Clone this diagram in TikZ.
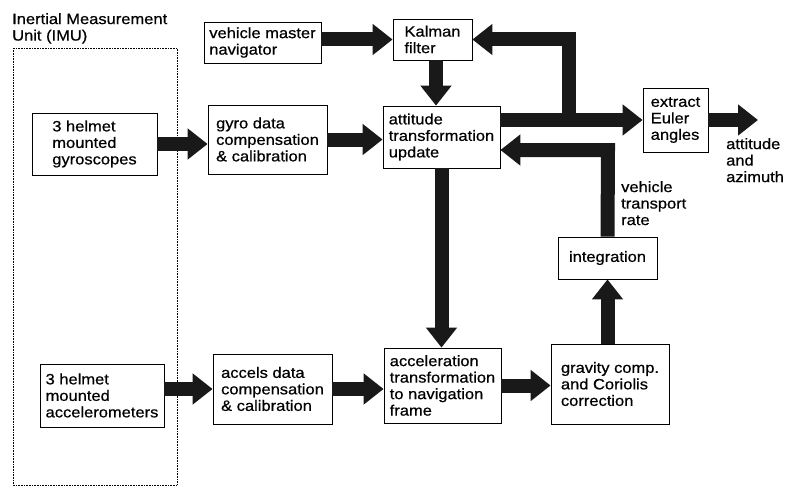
\documentclass[tikz,border=0pt]{standalone}
\usepackage{fontspec}
\setmainfont[FakeStretch=1.1,FakeBold=0.6]{Liberation Sans}
\usetikzlibrary{arrows.meta}
\begin{document}
\begin{tikzpicture}[x=1pt,y=-1pt,
  box/.style={draw, line width=0.8pt, align=left, inner sep=0pt, font=\fontsize{15}{16.5}\selectfont},
  lbl/.style={align=left, inner sep=0pt, font=\fontsize{15}{16.5}\selectfont},
  fat/.style={draw=black!90, line width=14pt, line join=miter, -{Triangle[length=20pt,width=30pt]}}]
\useasboundingbox (0,0) rectangle (785,487);
% IMU
\node[lbl, anchor=north west] (imut) at (12,13) {Inertial Measurement\\Unit (IMU)};
\draw[densely dotted, line width=0.6pt] (13,48) rectangle (177,485);
% boxes
\node[box, minimum width=125pt, minimum height=62pt] (gyro) at (94.5,144) {3 helmet\\mounted\\gyroscopes};
\node[box, minimum width=124pt, minimum height=63pt] (accm) at (102,395.5) {3 helmet\\mounted\\accelerometers};
\node[box, minimum width=117pt, minimum height=41pt] (vmn) at (262.5,42.5) {vehicle master\\navigator};
\node[box, minimum width=119pt, minimum height=69pt] (gyd) at (267.5,139.5) {gyro data\\compensation\\\& calibration};
\node[box, minimum width=119pt, minimum height=70pt] (acd) at (272.5,389) {accels data\\compensation\\\& calibration};
\node[box, minimum width=79pt, minimum height=41pt] (kal) at (432.5,39.5) {Kalman\\filter};
\node[box, minimum width=117pt, minimum height=62pt] (att) at (441.5,137) {attitude\\transformation\\update};
\node[box, minimum width=117pt, minimum height=75pt] (acc) at (442.5,385.5) {acceleration\\transformation\\to navigation\\frame};
\node[box, minimum width=65pt, minimum height=64pt] (eul) at (675.5,120) {extract\\Euler\\angles};
\node[box, minimum width=99pt, minimum height=42pt] (intg) at (607.5,258) {integration};
\node[box, minimum width=118pt, minimum height=80pt] (grav) at (610,384) {gravity comp.\\and Coriolis\\correction};
% labels
\node[lbl, anchor=north west] (outl) at (726,138) {attitude\\and\\azimuth};
\node[lbl, anchor=north west] (vtr) at (621,181) {vehicle\\transport\\rate};
% arrows
\draw[fat] (gyro.east) -- (gyro.east -| gyd.west);
\draw[fat] (gyd.east) -- (gyd.east -| att.west);
\draw[fat] (vmn.east |- kal.west) -- (kal.west);
\draw[fat] (accm.east |- acd.west) -- (acd.west);
\draw[fat] (acd.east) -- (acd.east -| acc.west);
\draw[fat] (acc.east) -- (acc.east -| grav.west);
\draw[fat] (intg.south |- grav.north) -- (intg.south);
\draw[fat] ([xshift=3.5pt]kal.south) -- ([xshift=3.5pt]kal.south |- att.north);
\draw[fat] (att.south) -- (att.south |- acc.north);
\draw[fat] (att.east |- eul.west) -- (eul.west);
\coordinate (out) at (758,120);
\draw[fat] (eul.east) -- (out);
\coordinate (br) at (569,120);
\draw[fat] (br) -- (br |- kal.east) -- (kal.east);
\coordinate (tr) at (608,150);
\draw[fat] (intg.north) -- (tr) -- (tr -| att.east);
\end{tikzpicture}
\end{document}
